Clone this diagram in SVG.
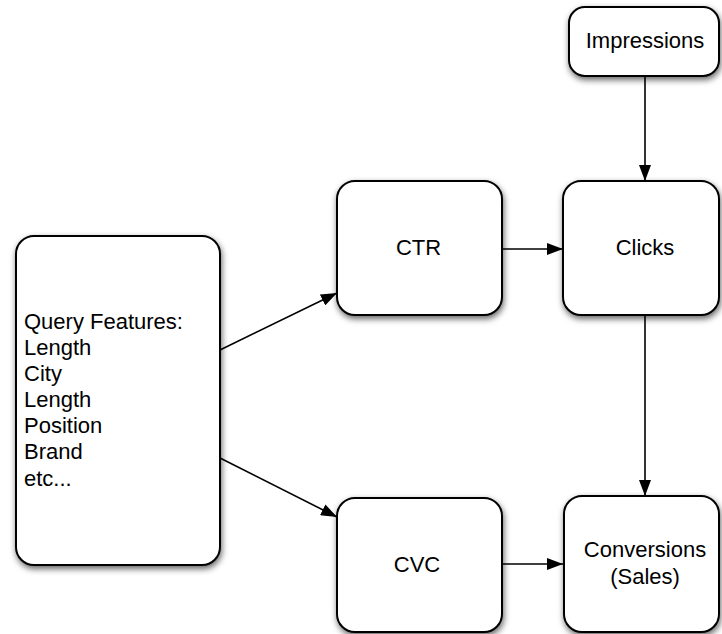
<svg xmlns="http://www.w3.org/2000/svg" width="722" height="634" viewBox="0 0 722 634">
<style>
.box{fill:#fff;stroke:#000;stroke-width:2;filter:url(#sh)}
.t{font-family:"Liberation Sans",Arial,sans-serif;font-size:22px;fill:#000}
.c{text-anchor:middle}
.ln{fill:none;stroke:#000;stroke-width:1.6;marker-end:url(#ah)}
</style>
<defs>
<filter id="sh" x="-20%" y="-20%" width="140%" height="140%">
<feDropShadow dx="1" dy="3" stdDeviation="3" flood-color="#000" flood-opacity="0.6"/>
</filter>
<marker id="ah" viewBox="0 0 16 12" refX="16" refY="6" markerWidth="16" markerHeight="12" markerUnits="userSpaceOnUse" orient="auto">
<path d="M0,0 L16,6 L0,12 Z" fill="#000"/>
</marker>
</defs>
<g id="connectors">
<line class="ln" x1="645" y1="76" x2="645" y2="181"/>
<line class="ln" x1="645" y1="315" x2="645" y2="496"/>
<line class="ln" x1="502" y1="249" x2="563" y2="249"/>
<line class="ln" x1="502" y1="564" x2="563" y2="564"/>
<line class="ln" x1="220" y1="350" x2="337" y2="293"/>
<line class="ln" x1="220" y1="458" x2="337" y2="517"/>
</g>
<g id="impressions">
<rect class="box" x="569" y="7" width="150" height="69" rx="16"/>
<text class="t c" x="645" y="48">Impressions</text>
</g>
<g id="ctr">
<rect class="box" x="337" y="181" width="165" height="134" rx="18"/>
<text class="t c" x="418.5" y="255">CTR</text>
</g>
<g id="clicks">
<rect class="box" x="563" y="181" width="156" height="134" rx="18"/>
<text class="t c" x="645" y="255">Clicks</text>
</g>
<g id="query">
<rect class="box" x="16" y="236" width="204" height="329" rx="18"/>
<text class="t" x="24" y="329">Query Features:</text>
<text class="t" x="24" y="355">Length</text>
<text class="t" x="24" y="381">City</text>
<text class="t" x="24" y="407">Length</text>
<text class="t" x="24" y="433">Position</text>
<text class="t" x="24" y="459">Brand</text>
<text class="t" x="24" y="486">etc...</text>
</g>
<g id="cvc">
<rect class="box" x="337" y="498" width="165" height="134" rx="18"/>
<text class="t c" x="417" y="572">CVC</text>
</g>
<g id="conversions">
<rect class="box" x="564" y="496" width="155" height="136" rx="18"/>
<text class="t c" x="645" y="557">Conversions</text>
<text class="t c" x="645" y="584">(Sales)</text>
</g>
</svg>
